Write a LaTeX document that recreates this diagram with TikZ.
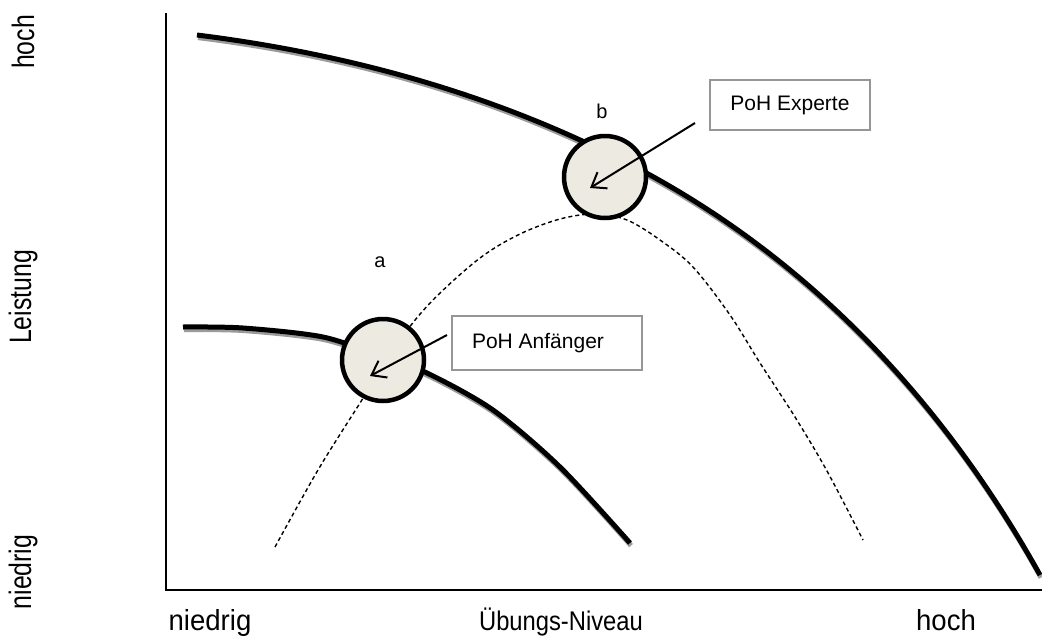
\documentclass[tikz,border=0pt]{standalone}
\usepackage{fontspec}
\setmainfont{Liberation Sans}
\usetikzlibrary{arrows.meta}
\definecolor{shadowgray}{RGB}{155,155,155}
\definecolor{circfill}{RGB}{237,235,225}
\definecolor{boxgray}{RGB}{150,150,150}
\tikzset{
  thickcurve/.style={line width=5pt, line join=round,
    preaction={draw=shadowgray, line width=5pt, transform canvas={xshift=1pt,yshift=-2.6pt}}},
  dashcurve/.style={line width=1.4pt, dash pattern=on 4pt off 3pt},
  circ/.style={circle, draw=black, line width=4.5pt, fill=circfill, minimum size=82pt, inner sep=0pt},
  box/.style={draw=boxgray, line width=1.5pt, fill=white, font=\fontsize{21}{25}\selectfont},
  pointer/.style={line width=2pt, -{Straight Barb[length=13pt,width=19pt,line width=2pt]}},
  ptlabel/.style={font=\fontsize{20}{24}\selectfont},
  axlabel/.style={font=\fontsize{29}{34}\selectfont, anchor=base},
  vlabel/.style={font=\fontsize{31}{36}\selectfont, rotate=90},
}
\begin{document}
\begin{tikzpicture}[x=1pt,y=-1pt]
\useasboundingbox (0,0) rectangle (1042,635);
% axes
\draw[line width=2pt] (166,13) -- (166,590) -- (1042,590);
% dashed curve
\draw[dashcurve] plot[smooth, tension=0.55] coordinates {(275,547) (318,470) (360,403) (400,340) (433,300) (480,258) (520,234) (560,219) (595,214) (627,220) (660,240) (693,267) (730,315) (760,363) (795,417) (827,471) (863,540)};
% upper curve
\draw[thickcurve] (197,35) .. controls (357,55) and (511,99) .. (650,175)
                            .. controls (810,263) and (942,399) .. (1040,575);
% lower curve
\draw[thickcurve] plot[smooth, tension=0.5] coordinates {(183,327) (243,328) (323,337) (383,357) (427,373) (493,410) (560,467) (630,543)};
% circles
\node[circ] (cb) at (605,177) {};
\node[circ] (ca) at (383,360) {};
% labels a, b
\node[ptlabel] (lb) at (602,111) {b};
\node[ptlabel] (la) at (380,262) {a};
% boxes
\node[box, minimum width=160pt, minimum height=50pt, text depth=0pt] (be) at (790,105) {\raisebox{3pt}{PoH Experte}};
\node[box, minimum width=190pt, minimum height=54pt] (bn) at (547,343) {\hspace*{-18pt}PoH Anfänger};
% pointers
\coordinate (se) at (695,123);
\coordinate (te) at (590,188);
\coordinate (sn) at (447,335);
\coordinate (tn) at (370,376);
\draw[pointer] (se) -- (te);
\draw[pointer] (sn) -- (tn);
% axis labels
\node[axlabel] (xl) at (210,630) {\scalebox{0.95}[1]{niedrig}};
\node[axlabel, font=\fontsize{27}{32}\selectfont] (xm) at (561,630) {\scalebox{0.88}[1]{Übungs-Niveau}};
\node[axlabel] (xh) at (946,630) {\scalebox{0.95}[1]{hoch}};
\node[vlabel] (yh) at (23,42) {\scalebox{0.8}[1]{hoch}};
\node[vlabel] (ym) at (23,297) {\scalebox{0.8}[1]{Leistung}};
\node[vlabel] (yl) at (23,572) {\scalebox{0.8}[1]{niedrig}};
\end{tikzpicture}
\end{document}
